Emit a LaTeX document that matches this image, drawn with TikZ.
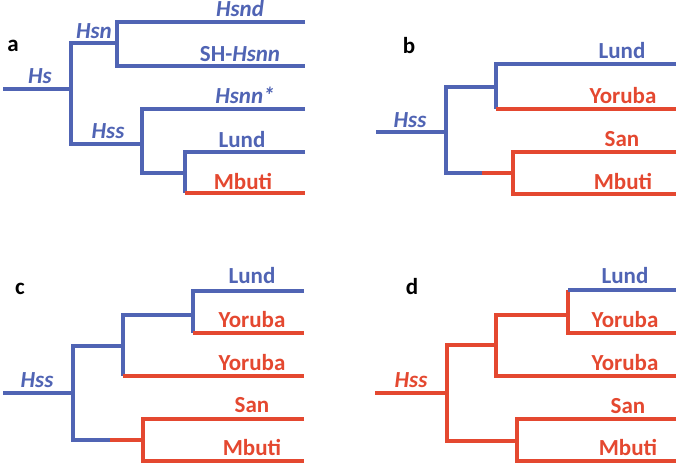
\documentclass[tikz,border=0pt]{standalone}
\usepackage{fontspec}
\setmainfont{Carlito}
\definecolor{tblue}{RGB}{80,100,180}
\definecolor{tred}{RGB}{228,72,48}
\begin{document}
\begin{tikzpicture}[x=1pt,y=-1pt,
  br/.style={line width=4.3pt,line cap=square,line join=miter},
  bb/.style={br,draw=tblue},
  rb/.style={br,draw=tred},
  lab/.style={anchor=base,font=\fontsize{23}{26}\selectfont\bfseries,inner sep=0pt},
  bl/.style={lab,text=tblue},
  rl/.style={lab,text=tred},
  pan/.style={lab,text=black,font=\fontsize{23}{26}\selectfont\bfseries}]
\useasboundingbox (0,0) rectangle (685,469);

% ---------- panel a ----------
\coordinate (a0) at (3,89);
\coordinate (a1) at (71,89);
\coordinate (a2) at (117,43);
\coordinate (a3) at (142,144);
\coordinate (a4) at (185,173);
\coordinate (aL1) at (305,22);
\coordinate (aL2) at (305,66);
\coordinate (aL3) at (305,109);
\coordinate (aL4) at (305,152);
\coordinate (aL5) at (305,193);
\draw[bb] (a0) -- (a1);
\draw[bb] (a2) -| (a1) |- (a3);
\draw[bb] (aL1) -| (a2) |- (aL2);
\draw[bb] (aL3) -| (a3) |- (a4);
\draw[bb] (aL4) -| (a4) -- (a4 |- aL5);
\draw[rb] (a4 |- aL5) -- (aL5);
\node[pan] (la) at (13,51) {a};
\node[bl] (lHs) at (40,83) {\itshape Hs};
\node[bl] (lHsn) at (94,38) {\itshape Hsn};
\node[bl] (lHsnd) at (240,16) {\itshape Hsnd};
\node[bl] (lSH) at (240,61) {SH-\textit{Hsnn}};
\node[bl] (lHsnn) at (245,103) {\itshape Hsnn*};
\node[bl] (lHssa) at (108,138) {\itshape Hss};
\node[bl] (lLunda) at (242,147) {Lund};
\node[rl] (lMbutia) at (243,189) {Mbuti};

% ---------- panel b ----------
\coordinate (b0) at (376,132);
\coordinate (b1) at (446,132);
\coordinate (b2) at (496,87);
\coordinate (b3) at (513,173);
\coordinate (bm) at (482,173);
\coordinate (bL1) at (676,64);
\coordinate (bL2) at (676,109);
\coordinate (bL3) at (676,152);
\coordinate (bL4) at (676,194);
\draw[bb] (b0) -- (b1);
\draw[bb] (b2) -| (b1) |- (bm);
\draw[rb] (bm) -- (b3);
\draw[bb] (bL1) -| (b2) -- (b2 |- bL2);
\draw[rb] (b2 |- bL2) -- (bL2);
\draw[rb] (bL3) -| (b3) |- (bL4);
\node[pan] (lb) at (409,53) {b};
\node[bl] (lHssb) at (410,127) {\itshape Hss};
\node[bl] (lLundb) at (622,58) {Lund};
\node[rl] (lYorb) at (623,103) {Yoruba};
\node[rl] (lSanb) at (622,146) {San};
\node[rl] (lMbutib) at (623,189) {Mbuti};

% ---------- panel c ----------
\coordinate (c0) at (3,393);
\coordinate (c1) at (73,393);
\coordinate (c2) at (123,346);
\coordinate (c3) at (143,440);
\coordinate (cm) at (110,440);
\coordinate (c4) at (193,315);
\coordinate (cL1) at (304,291);
\coordinate (cL2) at (304,333);
\coordinate (cL3) at (304,376);
\coordinate (cL4) at (304,419);
\coordinate (cL5) at (304,461);
\draw[bb] (c0) -- (c1);
\draw[bb] (c2) -| (c1) |- (cm);
\draw[rb] (cm) -- (c3);
\draw[bb] (c4) -| (c2) -- (c2 |- cL3);
\draw[rb] (c2 |- cL3) -- (cL3);
\draw[bb] (cL1) -| (c4) -- (c4 |- cL2);
\draw[rb] (c4 |- cL2) -- (cL2);
\draw[rb] (cL4) -| (c3) |- (cL5);
\node[pan] (lc) at (20,294) {c};
\node[bl] (lHssc) at (37,387) {\itshape Hss};
\node[bl] (lLundc) at (252,283) {Lund};
\node[rl] (lYorc1) at (252,327) {Yoruba};
\node[rl] (lYorc2) at (252,370) {Yoruba};
\node[rl] (lSanc) at (252,412) {San};
\node[rl] (lMbutic) at (252,455) {Mbuti};

% ---------- panel d ----------
\coordinate (d0) at (375,393);
\coordinate (d1) at (447,393);
\coordinate (d2) at (496,345);
\coordinate (d3) at (517,441);
\coordinate (d4) at (568,315);
\coordinate (dL1) at (676,290);
\coordinate (dL2) at (676,333);
\coordinate (dL3) at (676,376);
\coordinate (dL4) at (676,419);
\coordinate (dL5) at (676,461);
\draw[rb] (d0) -- (d1);
\draw[rb] (d2) -| (d1) |- (d3);
\draw[rb] (d4) -| (d2) |- (dL3);
\draw[rb] (d4 |- dL1) |- (dL2);
\draw[bb] (d4 |- dL1) -- (dL1);
\draw[rb] (dL4) -| (d3) |- (dL5);
\node[pan] (ld) at (412,294) {d};
\node[rl] (lHssd) at (411,387) {\itshape Hss};
\node[bl] (lLundd) at (625,283) {Lund};
\node[rl] (lYord1) at (625,327) {Yoruba};
\node[rl] (lYord2) at (625,370) {Yoruba};
\node[rl] (lSand) at (628,413) {San};
\node[rl] (lMbutid) at (628,455) {Mbuti};
\end{tikzpicture}
\end{document}
